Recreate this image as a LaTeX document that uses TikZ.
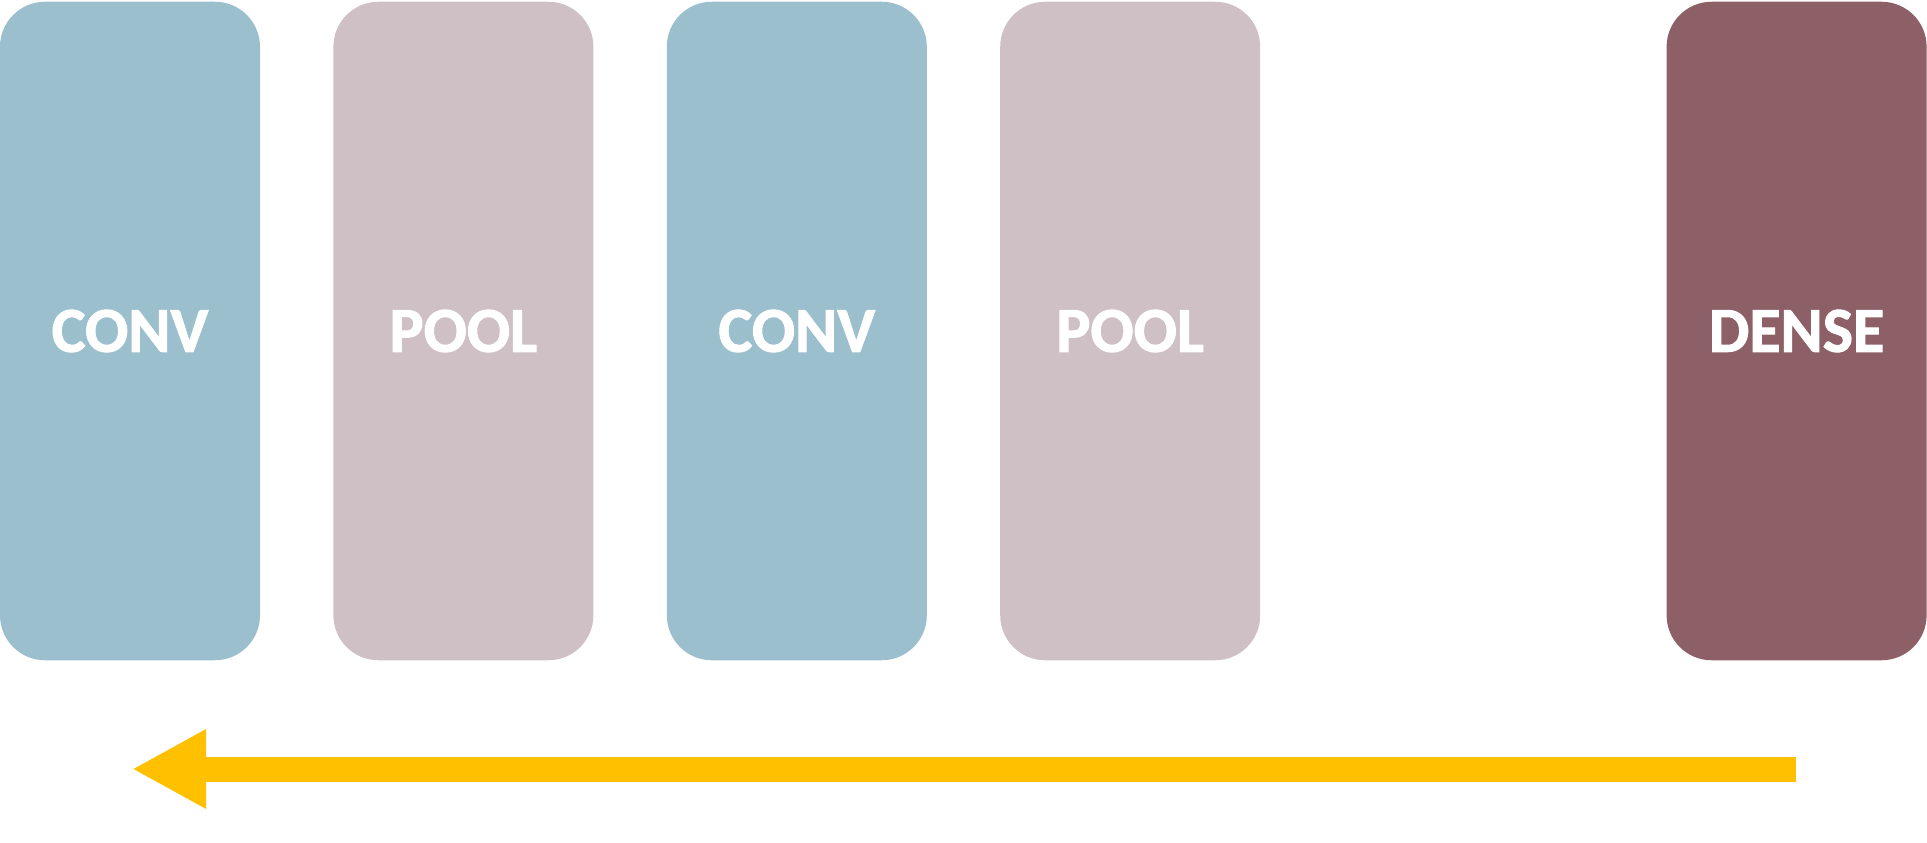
\documentclass[tikz,border=0pt]{standalone}
\usepackage{fontspec}
\setmainfont{Carlito}
\newfontfamily\layerfont[BoldFeatures={FakeBold=1.6}]{Carlito}
\usetikzlibrary{arrows.meta, positioning}
\definecolor{convblue}{HTML}{9BBFCD}
\definecolor{poolpink}{HTML}{CEC0C4}
\definecolor{densemauve}{HTML}{8D5F66}
\definecolor{flowyellow}{HTML}{FFC000}

\begin{document}
\begin{tikzpicture}[x=1pt, y=-1pt, node distance=73pt]
  % Define styles
  \tikzstyle{layer} = [rectangle, rounded corners=45pt, minimum width=260pt, minimum height=658.5pt, inner sep=0pt, text=white, font=\layerfont\fontsize{64}{64}\selectfont\bfseries]
  \tikzstyle{conv} = [layer, fill=convblue]
  \tikzstyle{pool} = [layer, fill=poolpink]
  \tikzstyle{dense} = [layer, fill=densemauve]
  \tikzstyle{flow} = [draw=flowyellow, line width=25pt, -{Triangle[length=74pt, width=74pt]}]

  \useasboundingbox (0,0) rectangle (1927,843);

  % Place nodes
  \node [conv] (conv1) at (130,331) {CONV};
  \node [pool, right=of conv1] (pool1) {POOL};
  \node [conv, right=of pool1] (conv2) {CONV};
  \node [pool, right=of conv2] (pool2) {POOL};
  \node [dense, right=406pt of pool2] (dense) {DENSE};

  % Draw the flow arrow
  \coordinate (flowstart) at (1796,769);
  \coordinate (flowend) at (132,769);
  \path [flow] (flowstart) -- (flowend);
\end{tikzpicture}
\end{document}
